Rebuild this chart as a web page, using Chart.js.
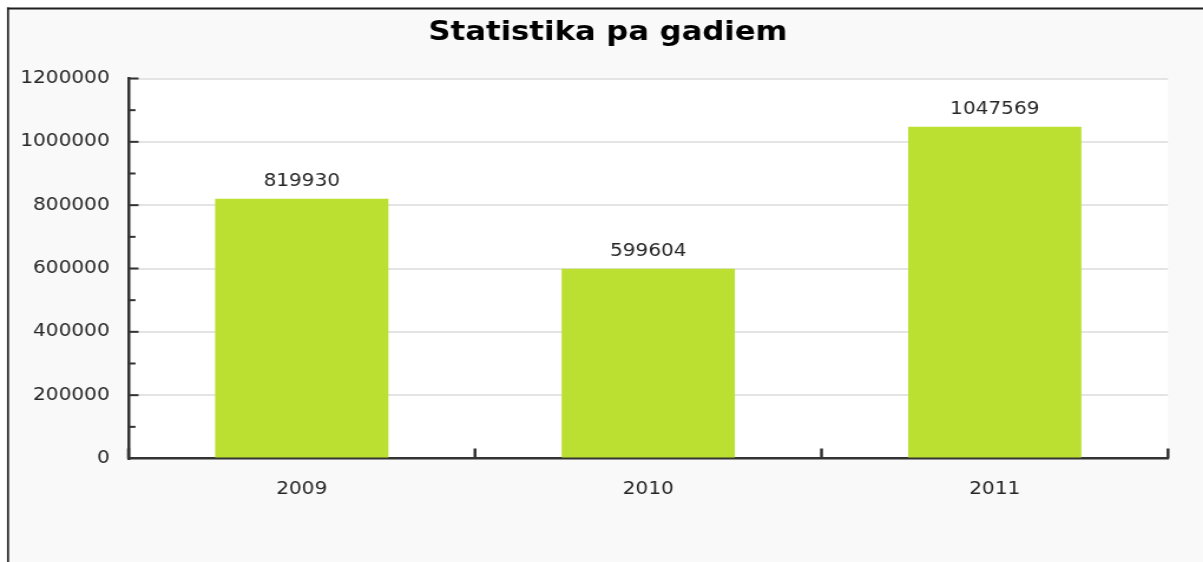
<!DOCTYPE html>
<html><head><meta charset="utf-8">
<style>
html,body{margin:0;padding:0;background:#fff;overflow:hidden;width:1203px;height:562px;}
#wrap{position:absolute;left:0;top:0;width:1020px;height:562px;transform:scaleX(1.179412);transform-origin:0 0;}
canvas{display:block;}
</style>
<script src="https://cdn.jsdelivr.net/npm/chart.js@4/dist/chart.umd.min.js"></script>
</head><body>
<div id="wrap"><canvas id="c" width="1020" height="562"></canvas></div>
<script>
const titleText = 'Statistika pa gadiem';
const categories = ['2009', '2010', '2011'];
const values = [819930, 599604, 1047569];
const yMajorTicks = [0, 200000, 400000, 600000, 800000, 1000000, 1200000];
const yMinorStep = 100000;

const SX = 1203 / 1020;
const FONT = '"DejaVu Sans", Verdana, sans-serif';
const TEXT = '#262626';

const framePlugin = {
  id: 'frame',
  beforeDraw(chart) {
    const ctx = chart.ctx, a = chart.chartArea;
    ctx.save();
    ctx.fillStyle = '#ffffff';
    ctx.fillRect(0, 0, chart.width, chart.height);
    ctx.fillStyle = '#f9f9f9';
    ctx.fillRect(7 / SX, 8, chart.width, chart.height);
    ctx.fillStyle = '#1e1e1e';
    ctx.fillRect(7 / SX, 7.5, chart.width, 2);
    ctx.fillRect(7 / SX, 7.5, 2 / SX, chart.height);
    ctx.fillStyle = '#ffffff';
    ctx.fillRect(a.left, a.top, a.right - a.left, a.bottom - a.top);
    ctx.fillStyle = '#000000';
    ctx.font = 'bold 26px ' + FONT;
    ctx.textAlign = 'center';
    ctx.textBaseline = 'alphabetic';
    ctx.fillText(titleText, 608 / SX, 40);
    ctx.restore();
  }
};

const tickPlugin = {
  id: 'innerTicks',
  afterDraw(chart) {
    const ctx = chart.ctx, a = chart.chartArea;
    const ys = chart.scales.y, xs = chart.scales.x;
    ctx.save();
    ctx.fillStyle = '#333333';
    ys.ticks.forEach(t => {
      if (t.value === 0) return;
      const py = ys.getPixelForValue(t.value);
      const major = yMajorTicks.includes(t.value);
      const len = (major ? 10 : 7) / SX;
      ctx.fillRect(a.left, py - 1, len, 2);
    });
    for (let i = 0; i <= categories.length; i++) {
      const px = xs.getPixelForValue(i - 0.5);
      ctx.fillRect(px - 1.25, a.bottom - 10, 2.5, 10);
    }
    ctx.restore();
  }
};

const labelPlugin = {
  id: 'barLabels',
  afterDatasetsDraw(chart) {
    const ctx = chart.ctx;
    const meta = chart.getDatasetMeta(0);
    ctx.save();
    ctx.fillStyle = TEXT;
    ctx.font = '17px ' + FONT;
    ctx.textAlign = 'center';
    ctx.textBaseline = 'alphabetic';
    meta.data.forEach((bar, i) => {
      ctx.fillText(String(values[i]), bar.x, bar.y - 13);
    });
    ctx.restore();
  }
};

new Chart(document.getElementById('c'), {
  type: 'bar',
  data: {
    labels: categories,
    datasets: [{
      data: values,
      backgroundColor: '#bce031',
      borderWidth: 0,
      categoryPercentage: 1,
      barPercentage: 0.5
    }]
  },
  options: {
    responsive: false,
    animation: false,
    devicePixelRatio: 1,
    layout: { padding: { top: 78.5, right: 1020 - 1168 / SX, bottom: 0, left: 0 } },
    plugins: { legend: { display: false }, tooltip: { enabled: false }, title: { display: false } },
    scales: {
      x: {
        afterFit(scale) { scale.height = 562 - 458.5; },
        grid: { display: true, drawOnChartArea: false, drawTicks: false, color: 'rgba(0,0,0,0)' },
        border: { display: true, color: '#333333', width: 2.5 },
        ticks: { color: TEXT, font: { family: FONT, size: 17 }, padding: 21, maxRotation: 0 }
      },
      y: {
        min: 0,
        max: 1200000,
        afterFit(scale) { scale.width = 128.5 / SX; },
        grid: {
          drawTicks: false,
          lineWidth: 2,
          color: ctx => (ctx.tick && ctx.tick.value !== 0 && yMajorTicks.includes(ctx.tick.value)) ? '#e4e4e4' : 'rgba(0,0,0,0)'
        },
        border: { display: true, color: '#333333', width: 2.5 },
        ticks: {
          stepSize: yMinorStep,
          autoSkip: false,
          color: TEXT,
          font: { family: FONT, size: 17 },
          padding: 16,
          callback: v => yMajorTicks.includes(v) ? String(v) : ''
        }
      }
    }
  },
  plugins: [framePlugin, tickPlugin, labelPlugin]
});
</script>
</body></html>
